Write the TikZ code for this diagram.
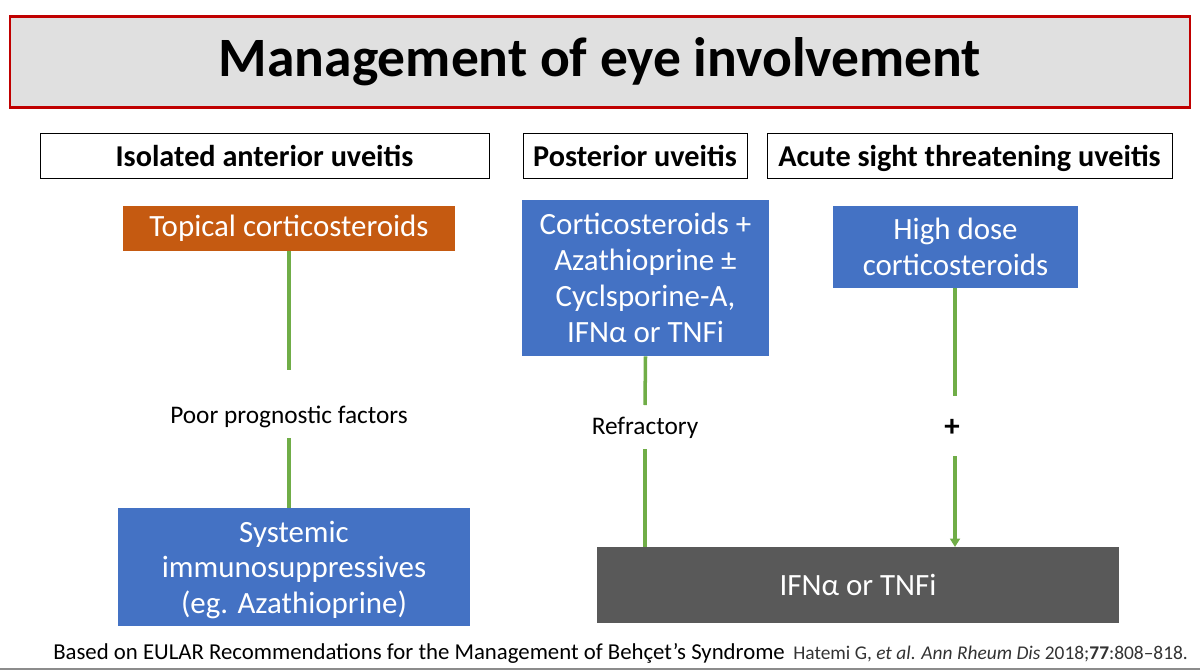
\documentclass[tikz,border=0pt]{standalone}
\usepackage{fontspec}
\setmainfont{Carlito}
\usetikzlibrary{arrows.meta}
\definecolor{eyeblue}{HTML}{4472C4}
\definecolor{eyeorange}{HTML}{C55A11}
\definecolor{eyegreen}{HTML}{70AD47}
\definecolor{eyegray}{HTML}{595959}
\definecolor{eyered}{HTML}{C00000}
\begin{document}
\begin{tikzpicture}[x=0.025cm,y=-0.025cm,
    head/.style={draw=black,fill=white,inner sep=0pt,text height=18pt,text depth=2pt,font=\fontsize{21.5}{24}\selectfont\bfseries},
    box/.style={fill=#1,text=white,inner sep=0pt,align=center,font=\fontsize{22}{25.5}\selectfont},
    lbl/.style={font=\fontsize{18}{20}\selectfont},
    link/.style={draw=eyegreen,line width=2.5pt}]
  \useasboundingbox (0,0) rectangle (1200,671);
  % title
  \node[draw=eyered,line width=2pt,fill=black!12,minimum width=1180*0.025cm,minimum height=91*0.025cm,
        font=\fontsize{39.5}{44}\selectfont\bfseries] (title) at (600,62) {Management of eye involvement};
  % headers
  \node[head,minimum width=449*0.025cm,minimum height=45*0.025cm] (ant) at (264.5,155.5) {Isolated anterior uveitis};
  \node[head,minimum width=224*0.025cm,minimum height=45*0.025cm] (post) at (635,155.5) {Posterior uveitis};
  \node[head,minimum width=405*0.025cm,minimum height=45*0.025cm] (acute) at (969.5,155.5) {Acute sight threatening uveitis};
  % boxes
  \node[box=eyeorange,minimum width=332*0.025cm,minimum height=45*0.025cm] (topical) at (289,228.5) {Topical corticosteroids};
  \node[box=eyeblue,minimum width=247*0.025cm,minimum height=156*0.025cm] (cortaza) at (645.5,278) {Corticosteroids +\\Azathioprine ±\\Cyclsporine-A,\\IFNα or TNFi};
  \node[box=eyeblue,minimum width=245*0.025cm,minimum height=82*0.025cm] (highdose) at (955.5,247) {High dose\\corticosteroids};
  \node[fill=eyeblue,minimum width=352*0.025cm,minimum height=118*0.025cm,inner sep=0pt] (systemic) at (294,567) {};
  \node[box=eyeblue] (systxt) at (294,570) {Systemic\\immunosuppressives\\(eg. Azathioprine)};
  \node[box=eyegray,minimum width=522*0.025cm,minimum height=76*0.025cm] (ifn) at (858,585) {IFNα or TNFi};
  % labels
  \node[lbl] (poor) at (289,417) {Poor prognostic factors};
  \node[lbl] (refr) at (645,428) {Refractory};
  \node[font=\fontsize{22}{24}\selectfont\bfseries] (plus) at (952,428) {+};
  % links
  \draw[link] (topical.south) -- (289,370);
  \draw[link] (289,438) -- (289,508);
  \draw[link] (cortaza.south) -- (645,405);
  \draw[link] (645,449) -- (645,547);
  \draw[link] (highdose.south -| 955,0) -- (955,396);
  \draw[link,-{Triangle[width=7pt,length=6pt]}] (955,456) -- (955,547);
  % footer
  \node[anchor=west,inner sep=0pt,font=\fontsize{16.2}{18}\selectfont] (src) at (53,653) {Based on EULAR Recommendations for the Management of Behçet’s Syndrome};
  \node[anchor=west,inner sep=0pt,font=\fontsize{13.8}{16}\selectfont,text=black!80] (cite) at (793,654) {Hatemi G, \textit{et al}. \textit{Ann Rheum Dis} 2018;\textbf{77}:808–818.};
  \draw[black!45,line width=2pt] (0,669) -- (1200,669);
\end{tikzpicture}
\end{document}
